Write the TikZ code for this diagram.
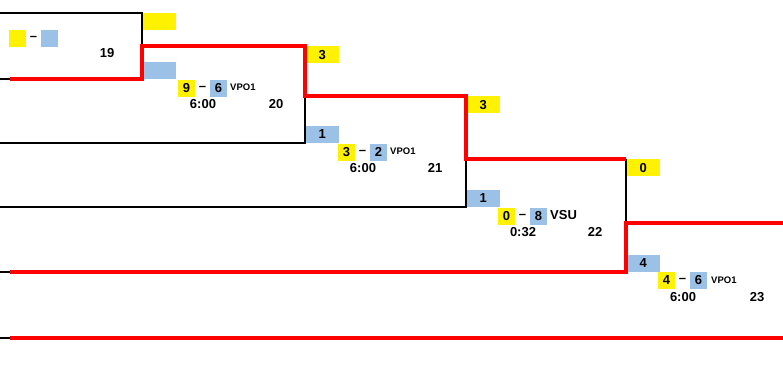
\documentclass[tikz,border=0pt]{standalone}
\usepackage{fontspec}
\setmainfont{Liberation Sans}
\definecolor{scoreBlue}{RGB}{155,194,230}
\tikzstyle{yellowBox}=[shape = rectangle, fill = yellow, minimum width = 17pt, minimum height = 17pt, inner sep = 0pt, font = \bfseries\fontsize{13}{13}\selectfont]
\tikzstyle{blueBox}=[shape = rectangle, fill = scoreBlue, minimum width = 17pt, minimum height = 17pt, inner sep = 0pt, font = \bfseries\fontsize{13}{13}\selectfont]
\tikzstyle{slotYellow}=[yellowBox, minimum width = 34pt, anchor = north west]
\tikzstyle{slotBlue}=[blueBox, minimum width = 34pt, anchor = south west]
\tikzstyle{plainText}=[inner sep = 0pt, font = \bfseries\fontsize{13}{13}\selectfont]
\tikzstyle{typeText}=[inner sep = 0pt, anchor = west, font = \bfseries\fontsize{9.5}{9.5}\selectfont]

\begin{document}
\begin{tikzpicture}[x = 1pt, y = -1pt]
\tikzstyle{bracketLine}=[draw = black, line width = 2pt]
\tikzstyle{winLine}=[draw = red, line width = 4pt]
\useasboundingbox (0,0) rectangle (783,373);
% slots and corners
\coordinate (p1) at (0,13);
\coordinate (p2) at (0,79);
\coordinate (p2r) at (10,79);
\coordinate (p3) at (0,143);
\coordinate (p4) at (0,207);
\coordinate (p5) at (0,272);
\coordinate (p5r) at (10,272);
\coordinate (p6) at (0,338);
\coordinate (p6r) at (10,338);
\coordinate (m19t) at (142,13);
\coordinate (m19o) at (142,46);
\coordinate (m19b) at (142,79);
\coordinate (m20t) at (305,46);
\coordinate (m20o) at (305,96);
\coordinate (m20b) at (305,143);
\coordinate (m21t) at (466,96);
\coordinate (m21o) at (466,159);
\coordinate (m21b) at (466,207);
\coordinate (m22t) at (626,159);
\coordinate (m22o) at (626,223);
\coordinate (m22b) at (626,272);
\coordinate (e22) at (783,223);
\coordinate (e6) at (783,338);
% match 19
\node[slotYellow] (o19y) at (m19t) {};
\node[slotBlue] (o19b) at (m19b) {};
\node[yellowBox] (y19) at (17.5,38) {};
\node[plainText] (d19) at (33.5,38) {--};
\node[blueBox] (b19) at (49.5,38) {};
\node[plainText] (n19) at (107,53) {19};
% match 20
\node[slotYellow] (o20y) at (m20t) {3};
\node[slotBlue] (o20b) at (m20b) {1};
\node[yellowBox] (y20) at (186.5,88) {9};
\node[plainText] (d20) at (202.5,88) {--};
\node[blueBox] (b20) at (218.5,88) {6};
\node[typeText] (k20) at (230,87) {VPO1};
\node[plainText] (t20) at (203,104) {6:00};
\node[plainText] (n20) at (276,104) {20};
% match 21
\node[slotYellow] (o21y) at (m21t) {3};
\node[slotBlue] (o21b) at (m21b) {1};
\node[yellowBox] (y21) at (346.5,152) {3};
\node[plainText] (d21) at (362.5,152) {--};
\node[blueBox] (b21) at (378.5,152) {2};
\node[typeText] (k21) at (390,151) {VPO1};
\node[plainText] (t21) at (363,168) {6:00};
\node[plainText] (n21) at (435,168) {21};
% match 22
\node[slotYellow] (o22y) at (m22t) {0};
\node[slotBlue] (o22b) at (m22b) {4};
\node[yellowBox] (y22) at (506.5,216) {0};
\node[plainText] (d22) at (522.5,216) {--};
\node[blueBox] (b22) at (538.5,216) {8};
\node[typeText, font = \bfseries\fontsize{13}{13}\selectfont] (k22) at (550,215) {VSU};
\node[plainText] (t22) at (523,232) {0:32};
\node[plainText] (n22) at (595,232) {22};
% match 23
\node[yellowBox] (y23) at (666.5,280) {4};
\node[plainText] (d23) at (682.5,280) {--};
\node[blueBox] (b23) at (698.5,280) {6};
\node[typeText] (k23) at (711,280) {VPO1};
\node[plainText] (t23) at (683,297) {6:00};
\node[plainText] (n23) at (757,297) {23};
% lines
\draw[bracketLine] (p1) -- (m19t) -- (m19o);
\draw[bracketLine] (p2) -- (p2r);
\draw[bracketLine] (p3) -- (m20b) -- (m20o);
\draw[bracketLine] (p4) -- (m21b) -- (m21o);
\draw[bracketLine] (m22t) -- (m22o);
\draw[bracketLine] (p5) -- (p5r);
\draw[bracketLine] (p6) -- (p6r);
\draw[winLine] (p2r) -- (m19b) -- (m19o) -- (m20t) -- (m20o) -- (m21t) -- (m21o) -- (m22t);
\draw[winLine] (p5r) -- (m22b) -- (m22o) -- (e22);
\draw[winLine] (p6r) -- (e6);
\end{tikzpicture}
\end{document}
